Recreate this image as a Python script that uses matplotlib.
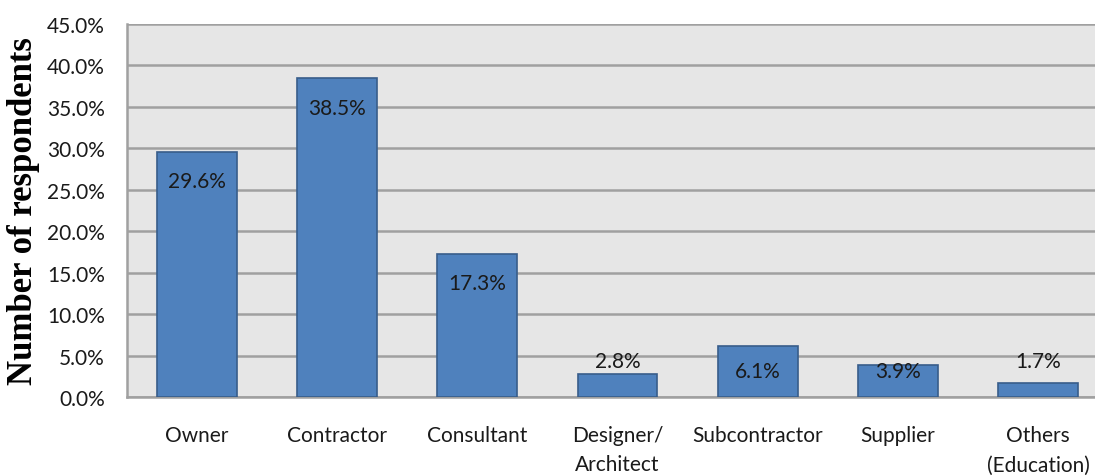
import matplotlib
matplotlib.use("Agg")
import matplotlib.pyplot as plt
from matplotlib.ticker import FuncFormatter, MultipleLocator

categories = ["Owner", "Contractor", "Consultant", "Designer/\nArchitect",
              "Subcontractor", "Supplier", "Others\n(Education)"]
values = [29.6, 38.5, 17.3, 2.8, 6.1, 3.9, 1.7]
ylabel = "Number of respondents"

FS = 15

fig = plt.figure(figsize=(10.95, 4.77), dpi=100)
ax = fig.add_axes([127/1095, 1 - 398/477, (1095 - 127)/1095, (398 - 25)/477])
ax.set_facecolor("#E6E6E6")

x = list(range(len(categories)))
ax.bar(x, values, width=0.57, color="#4F81BD", edgecolor="#385D8A", linewidth=1.2, zorder=3)

for xi, v in zip(x, values):
    if v >= 3.5:
        y = max(v - 3.6, 3.1)
    else:
        y = 4.3
    ax.text(xi, y, f"{v:.1f}%", ha="center", va="center", fontsize=FS,
            family="Lato", color="#1a1a1a", zorder=4)

ax.set_ylim(0, 45)
ax.set_xlim(-0.5, 6.5 - 13/140)
ax.yaxis.set_major_locator(MultipleLocator(5))
ax.yaxis.set_major_formatter(FuncFormatter(lambda v, p: f"{v:.1f}%"))
ax.grid(axis="y", color="#A0A0A0", linewidth=1.8, zorder=0)
ax.set_axisbelow(True)
ax.set_xticks(x)
ax.set_xticklabels(categories, fontsize=FS, family="Lato", color="#1a1a1a", linespacing=1.6)
for lbl in ax.get_yticklabels():
    lbl.set_fontsize(FS)
    lbl.set_family("Lato")
    lbl.set_color("#1a1a1a")
ax.tick_params(axis="both", length=0)
ax.tick_params(axis="y", pad=16)
ax.tick_params(axis="x", pad=20)
for s in ["top", "right"]:
    ax.spines[s].set_visible(False)
for s in ["left", "bottom"]:
    ax.spines[s].set_color("#A0A0A0")
    ax.spines[s].set_linewidth(1.8)

fig.text(24/1095, 1 - 211/477, ylabel, rotation=90, ha="center", va="center",
         fontsize=25, fontweight="bold", family="Liberation Serif")

fig.savefig("out.png", dpi=100)
